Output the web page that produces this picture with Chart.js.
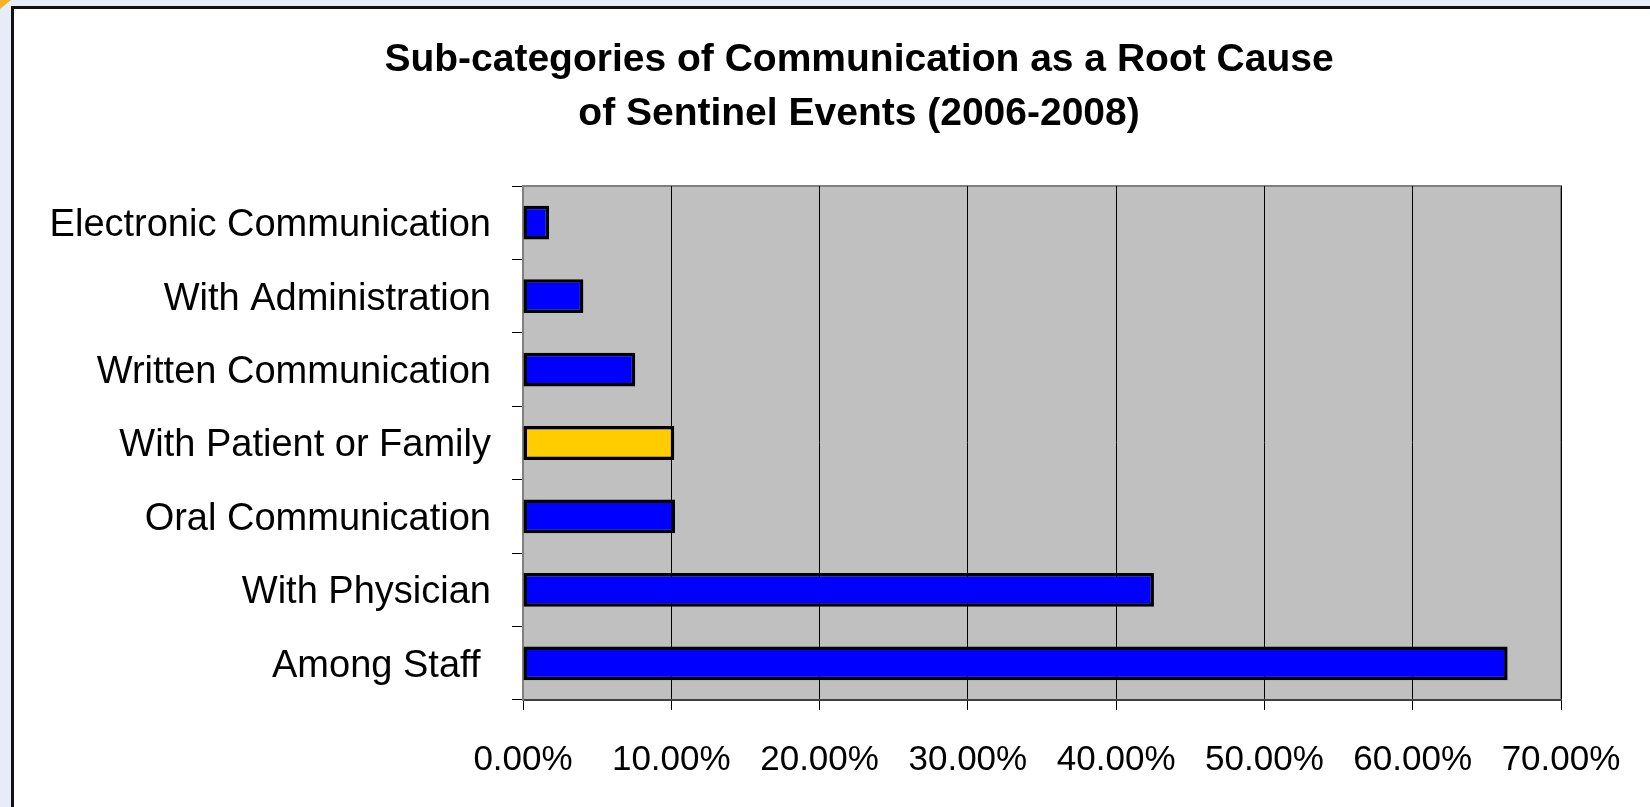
<!DOCTYPE html>
<html>
<head>
<meta charset="utf-8">
<script src="https://cdn.jsdelivr.net/npm/chart.js@4.4.0/dist/chart.umd.min.js"></script>
<style>
  html, body { margin: 0; padding: 0; background: #e7edf8; overflow: hidden; width: 1650px; height: 807px; }
  #frame { position: absolute; left: 11px; top: 6px; width: 1700px; height: 900px; background: #fff; border: 3px solid #111; }
  #corner { position: absolute; left: 0; top: 0; width: 11px; height: 9px; background: #f0b323; clip-path: polygon(0 0, 100% 0, 0 100%); }
  canvas { position: absolute; left: 0; top: 0; }
</style>
</head>
<body>
<div id="frame"></div>
<div id="corner"></div>
<canvas id="chart" width="1718" height="807"></canvas>
<script>
const categories = [
    'Electronic Communication',
    'With Administration',
    'Written Communication',
    'With Patient or Family',
    'Oral Communication',
    'With Physician',
    'Among Staff '
]
const shares = [1.76, 4.07, 7.57, 10.2, 10.25, 42.55, 66.4]
const xTicks = [0, 10, 20, 30, 40, 50, 60, 70]
const highlighted = 'With Patient or Family'

const titleLines = [
    'Sub-categories of Communication as a Root Cause',
    'of Sentinel Events (2006-2008)'
]

// grey plot area with the thin frame on top and right
const plotFrame = {
    id: 'plotFrame',
    beforeDraw(chart) {
        const {ctx, chartArea: a} = chart
        ctx.save()
        ctx.fillStyle = '#c0c0c0'
        ctx.fillRect(a.left, a.top, a.width, a.height)
        ctx.strokeStyle = '#808080'
        ctx.lineWidth = 2
        ctx.beginPath()
        ctx.moveTo(a.left, a.top)
        ctx.lineTo(a.right, a.top)
        ctx.lineTo(a.right, a.bottom)
        ctx.stroke()
        ctx.restore()
    }
}

const font = 'Liberation Sans, Arial, sans-serif'

new Chart(document.getElementById('chart'), {
    type: 'bar',
    data: {
        labels: categories,
        datasets: [{
            data: shares,
            backgroundColor: categories.map(c => c === highlighted ? '#ffcc00' : '#0000ff'),
            borderColor: '#000',
            borderWidth: 3.5,
            borderSkipped: false,
            categoryPercentage: 1,
            barPercentage: 0.46
        }]
    },
    options: {
        indexAxis: 'y',
        responsive: false,
        animation: false,
        devicePixelRatio: 1,
        layout: {
            padding: 0
        },
        scales: {
            x: {
                type: 'linear',
                min: 0,
                max: 70,
                afterBuildTicks: (scale) => {
                    scale.ticks = xTicks.map(v => ({value: v}))
                },
                afterFit: (scale) => {
                    // canvas is wider than the page so the title centres like the original
                    scale.height = 107
                    scale.paddingLeft = 0
                    scale.paddingRight = 157
                },
                grid: {
                    color: '#000',
                    lineWidth: 1,
                    tickLength: 10,
                    drawOnChartArea: true
                },
                border: {
                    color: '#404040',
                    width: 2
                },
                ticks: {
                    color: '#000',
                    padding: 29,
                    maxRotation: 0,
                    autoSkip: false,
                    font: {family: font, size: 35},
                    callback: (value) => value.toFixed(2) + '%'
                }
            },
            y: {
                afterFit: (scale) => {
                    scale.width = 523
                    scale.paddingTop = 0
                    scale.paddingBottom = 0
                },
                grid: {
                    color: '#000',
                    drawOnChartArea: false,
                    tickLength: 11,
                    offset: true
                },
                border: {
                    color: '#808080',
                    width: 2
                },
                ticks: {
                    color: '#000',
                    padding: 21,
                    labelOffset: 3,
                    font: {family: font, size: 38}
                }
            }
        },
        plugins: {
            legend: {display: false},
            tooltip: {enabled: false},
            title: {
                display: true,
                text: titleLines,
                color: '#000',
                font: {family: font, size: 39, weight: 'bold', lineHeight: 54 / 39},
                padding: {top: 33, bottom: 45}
            }
        }
    },
    plugins: [plotFrame]
})
</script>
</body>
</html>
